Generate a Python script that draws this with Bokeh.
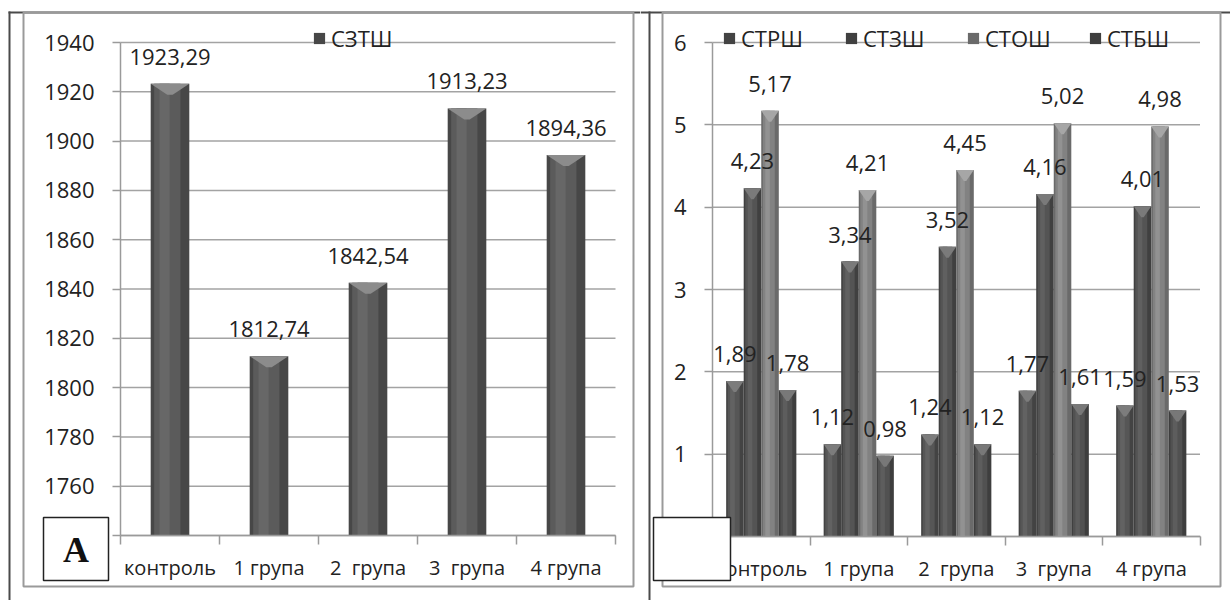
from bokeh.plotting import figure
from bokeh.models import (Range1d, FixedTicker, BoxAnnotation, Label, Legend,
                          LegendItem)
from bokeh.layouts import row
from bokeh.embed import file_html
from bokeh.resources import INLINE
from bokeh.core.properties import value

# ---------------- data ----------------
categories = ["контроль", "1 група", "2  група", "3  група", "4 група"]

a_series = "СЗТШ"
a_values = [1923.29, 1812.74, 1842.54, 1913.23, 1894.36]
a_ticks = [1740, 1760, 1780, 1800, 1820, 1840, 1860, 1880, 1900, 1920, 1940]

b_series = ["СТРШ", "СТЗШ", "СТОШ", "СТБШ"]
b_strsh = [1.89, 1.12, 1.24, 1.77, 1.59]
b_stzsh = [4.23, 3.34, 3.52, 4.16, 4.01]
b_stosh = [5.17, 4.21, 4.45, 5.02, 4.98]
b_stbsh = [1.78, 0.98, 1.12, 1.61, 1.53]
b_ticks = [0, 1, 2, 3, 4, 5, 6]

# ---------------- styling ----------------
FONT = "Open Sans"
TXT = "#222222"
GRID = "#a3a3a3"
AXIS = "#9a9a9a"
DARK = "#4a4a4a"
FRAME = "#9a9a9a"
H = 600


def fmt(v):
    return f"{v:.2f}".replace(".", ",")


def make_fig(width, ax_x0, ax_x1, ax_ytop, ax_ybot, yticks):
    """Figure whose frame fills the canvas; axes sit at fixed locations.
    ax_x0/ax_x1: canvas px of the category span; ax_ytop/ax_ybot: canvas px
    of the first/last y tick."""
    n = len(categories)
    y0, y1 = yticks[0], yticks[-1]
    xppu = (ax_x1 - ax_x0) / n
    yppu = (ax_ybot - ax_ytop) / (y1 - y0)
    xr = Range1d(-ax_x0 / xppu, n + (width - ax_x1) / xppu)
    yr = Range1d(y0 - (H - ax_ybot) / yppu, y1 + ax_ytop / yppu)
    p = figure(width=width, height=H, x_range=xr, y_range=yr,
               output_backend="svg", toolbar_location=None)
    p.min_border = 0
    p.min_border_left = 0
    p.min_border_right = 0
    p.min_border_top = 0
    p.min_border_bottom = 0
    p.outline_line_color = None
    p.background_fill_color = "white"
    p.border_fill_color = "white"
    p.xgrid.visible = False
    p.ygrid.visible = False

    # horizontal grid lines, drawn from the tick list over the category span
    p.segment(x0=[0] * len(yticks), x1=[n] * len(yticks), y0=yticks,
              y1=yticks, line_color=GRID, line_width=1.5)

    centers = [i + 0.5 for i in range(n)]
    xa = p.xaxis[0]
    xa.fixed_location = y0
    xa.bounds = (0, n)
    xa.ticker = FixedTicker(ticks=centers, minor_ticks=list(range(n + 1)))
    xa.major_label_overrides = {c: lab.replace("  ", "\u00a0 ")
                                for c, lab in zip(centers, categories)}
    xa.major_tick_out = 0
    xa.major_tick_in = 0
    xa.major_tick_line_color = None
    xa.minor_tick_out = 9
    xa.minor_tick_in = 0
    xa.minor_tick_line_color = AXIS
    xa.minor_tick_line_width = 1.5
    xa.axis_line_color = AXIS
    xa.axis_line_width = 1.5
    xa.major_label_text_font = FONT
    xa.major_label_text_font_size = "20px"
    xa.major_label_text_color = TXT
    xa.major_label_standoff = 9

    ya = p.yaxis[0]
    ya.fixed_location = 0
    ya.bounds = (y0, y1)
    ya.ticker = FixedTicker(ticks=yticks, minor_ticks=[])
    ya.major_tick_out = 8
    ya.major_tick_in = 0
    ya.minor_tick_out = 0
    ya.minor_tick_in = 0
    ya.major_tick_line_color = AXIS
    ya.major_tick_line_width = 1.5
    ya.axis_line_color = AXIS
    ya.axis_line_width = 1.5
    ya.major_label_text_font = FONT
    ya.major_label_text_font_size = "22px"
    ya.major_label_text_color = TXT
    ya.major_label_standoff = 18
    return p, 1.0 / yppu


def bevel_bars(p, xs, tops, bottom, w, colors, units_per_px):
    base, mid, hl, topc = colors
    r = p.vbar(x=xs, top=tops, bottom=bottom, width=w, fill_color=base,
               line_color=None)
    p.vbar(x=[x - 0.07 * w for x in xs], top=tops, bottom=bottom,
           width=0.68 * w, fill_color=mid, line_color=None)
    p.vbar(x=[x - 0.14 * w for x in xs], top=tops, bottom=bottom,
           width=0.26 * w, fill_color=hl, line_color=None)
    d = 11 * units_per_px
    xs_p = [[x - w / 2, x + w / 2, x + 0.07 * w, x - 0.07 * w] for x in xs]
    ys_p = [[t, t, t - d, t - d] for t in tops]
    p.patches(xs_p, ys_p, fill_color=topc, line_color=None)
    return r


def data_labels(p, xs, vals):
    p.text(x=xs, y=vals, text=[fmt(v) for v in vals], text_align="center",
           text_baseline="middle", y_offset=-27,
           text_font=value(FONT), text_font_size="22px", text_color=TXT)


def cbox(p, l, r, t, b, fill=None, line=None, lw=1.0):
    p.add_layout(BoxAnnotation(
        left=l, right=r, top=t, bottom=b,
        left_units="canvas", right_units="canvas",
        top_units="canvas", bottom_units="canvas",
        fill_color=fill if fill else "white", fill_alpha=1 if fill else 0,
        line_color=line if line else "white", line_alpha=1 if line else 0,
        line_width=lw, level="annotation"))


def style_legend(leg):
    leg.background_fill_alpha = 0
    leg.border_line_color = None
    leg.padding = 0
    leg.margin = 0
    leg.spacing = 3
    leg.glyph_width = 14
    leg.glyph_height = 14
    leg.label_standoff = 5
    leg.label_height = 20
    leg.label_text_font = FONT
    leg.label_text_font_size = "22px"
    leg.label_text_color = TXT


LEG_Y = H - 53

# ---------------- panel A ----------------
W1 = 640
pa, a_upp = make_fig(W1, 120, 615, 42, 535, a_ticks)
xa_pos = [i + 0.5 for i in range(len(categories))]
ra = bevel_bars(pa, xa_pos, a_values, a_ticks[0], 0.39,
                ("#474747", "#5b5b5b", "#676767", "#8c8c8c"), a_upp)
data_labels(pa, xa_pos, a_values)

leg_a = Legend(items=[LegendItem(label=a_series, renderers=[ra])],
               location=(312, LEG_Y), orientation="horizontal")
style_legend(leg_a)
pa.add_layout(leg_a)

cbox(pa, 8, W1, 11, 13, fill=DARK)           # top dark line
cbox(pa, 8, 10, 11, H, fill=DARK)            # left dark line
cbox(pa, 23, 633, 12, 586, line=FRAME, lw=2)  # chart area frame
cbox(pa, 43, 108, 517, 580, fill="white", line="#222222", lw=1.5)
pa.add_layout(Label(x=75.5, y=549, x_units="canvas", y_units="canvas",
                    text="А", text_font="Liberation Serif",
                    text_font_style="bold", text_font_size="36px",
                    text_align="center", text_baseline="middle",
                    text_color="#111111", level="annotation"))

# ---------------- panel Б ----------------
W2 = 590
OFF = W1
pb, b_upp = make_fig(W2, 712 - OFF, 1199.5 - OFF, 42, 536, b_ticks)
b_values = [b_strsh, b_stzsh, b_stosh, b_stbsh]
b_offsets = [-0.27, -0.09, 0.09, 0.27]
b_colors = [("#434343", "#565656", "#626262", "#7c7c7c"),
            ("#404040", "#545454", "#606060", "#7a7a7a"),
            ("#6a6a6a", "#828282", "#929292", "#a6a6a6"),
            ("#3e3e3e", "#515151", "#5d5d5d", "#787878")]
b_rend = []
for vals, off, cols in zip(b_values, b_offsets, b_colors):
    xs = [i + 0.5 + off for i in range(len(categories))]
    b_rend.append(bevel_bars(pb, xs, vals, 0, 0.18, cols, b_upp))
for vals, off in zip(b_values, b_offsets):
    xs = [i + 0.5 + off for i in range(len(categories))]
    data_labels(pb, xs, vals)

leg_b = Legend(items=[LegendItem(label=n, renderers=[r])
                      for n, r in zip(b_series, b_rend)],
               location=(722 - OFF, LEG_Y), orientation="horizontal")
style_legend(leg_b)
leg_b.label_width = 100
pb.add_layout(leg_b)

cbox(pb, 0, W2, 11, 13, fill=DARK)                       # top dark line
cbox(pb, 648 - OFF, 650 - OFF, 11, H, fill=DARK)         # separator line
cbox(pb, 662 - OFF, 1220 - OFF, 12, 586, line=FRAME, lw=2)  # chart frame
cbox(pb, 653 - OFF, 730 - OFF, 517, 580, fill="white", line="#222222",
     lw=1.5)

layout = row(pa, pb, spacing=0)
open("out.html", "w").write(file_html(layout, INLINE))
